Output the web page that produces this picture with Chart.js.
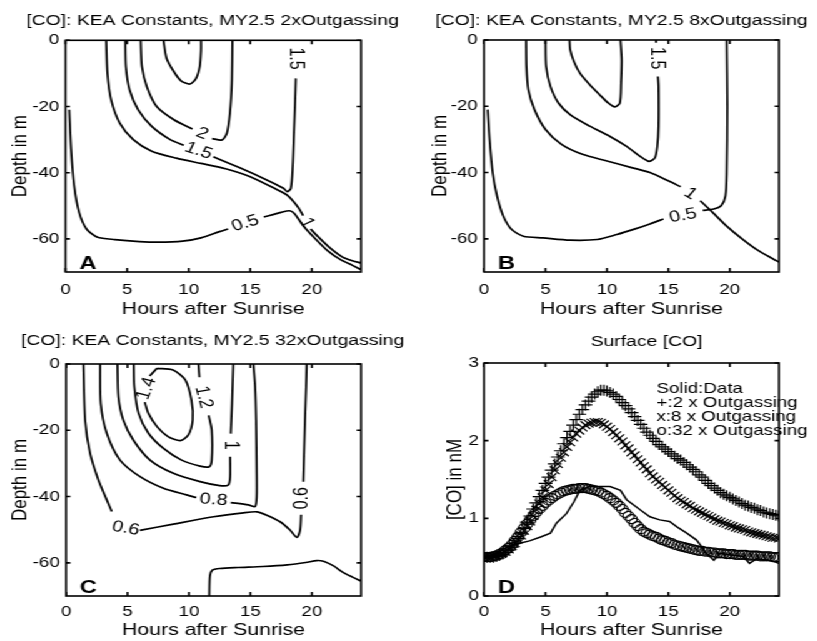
<!DOCTYPE html>
<html>
<head>
<meta charset="utf-8">
<script src="https://cdn.jsdelivr.net/npm/chart.js@4.4.1/dist/chart.umd.min.js"></script>
<style>
  body { margin: 0; background: #fff; }
  /* the scanned figure is wider than tall, so the whole set is stretched a bit */
  #wrap { position: absolute; left: 0; top: 0; width: 654px; height: 641px;
          transform: scaleX(1.25); transform-origin: 0 0; }
  canvas { position: absolute; }
</style>
</head>
<body>
<div id="wrap">
  <canvas id="cA" width="345" height="320" style="left:0;top:0"></canvas>
  <canvas id="cB" width="327" height="320" style="left:326px;top:0"></canvas>
  <canvas id="cC" width="345" height="321" style="left:0;top:320px"></canvas>
  <canvas id="cD" width="327" height="321" style="left:326px;top:320px"></canvas>
</div>
<script>
// ---- axes ----
const hourTicks = [0, 5, 10, 15, 20];
const depthTicks = [-60, -40, -20, 0];
const coTicks = [0, 1, 2, 3];

// ---- panel A: 2x outgassing, contour lines as [hour, depth], null = label gap ----
const a_c25 = [[7.95,0],[8.2,-5.4],[8.8,-9.5],[9.4,-12.3],[10.1,-13.2],[10.6,-11.5],[10.9,-7.9],[11.0,-3],[11.0,0]];
const a_c2 = [[6.1,0],[6.2,-7.9],[6.6,-14],[7.4,-20],[8.8,-24],[10.3,-26.8],null,[11.9,-29.7],[12.7,-30.1],[13.1,-28.1],[13.35,-22],[13.5,-13],[13.55,0]];
const a_c15 = [[4.85,0],[4.9,-8],[5.2,-15],[5.9,-21],[7.0,-26],[8.5,-30],[9.6,-31.7],null,[12.0,-35.2],[14.2,-38.6],[16.3,-42.1],[17.7,-44.7],[18.0,-45.7],[18.3,-44.7],[18.45,-38],[18.55,-28],[18.65,-18],[18.7,-11.5]];
const a_c1 = [[3.3,0],[3.4,-10],[3.7,-18],[4.4,-25],[5.5,-30],[7,-33.5],[9,-35.6],[11,-37.2],[13,-38.8],[15,-41.2],[17,-44.8],[18,-46.8],[18.9,-50.5],[19.3,-53],null,[19.9,-57],[20.5,-59.3],[21.5,-62.8],[22.5,-65.5],[23.3,-66.6],[24,-67.3]];
const a_c05 = [[0.3,-21],[0.45,-33],[0.7,-44],[1.1,-52],[1.7,-57],[2.6,-59.5],[4,-60.2],[6,-60.8],[7.5,-61],[9.5,-60.7],[11,-59.7],[12.5,-57.8],[13.2,-57],null,[16.1,-53.4],[17.5,-52],[18.2,-51.5],[18.6,-52.4],[19.3,-56],[20.3,-60],[21.3,-63.6],[22.3,-66.2],[23.3,-68],[24,-69.3]];
const a_labels = [['2',11.1,-28.2],['1.5',10.8,-33.4],['1.5',18.7,-5.5],['0.5',14.6,-55.3],['1',19.6,-55.2]];

// ---- panel B: 8x outgassing ----
const b_c2 = [[6.95,0],[7.0,-2.8],[7.3,-6.4],[7.8,-10],[8.6,-13.5],[9.4,-16.5],[10.1,-19],[10.65,-20.2],[11.05,-19],[11.15,-13],[11.2,-6],[11.1,0]];
const b_c15 = [[5.0,0],[5.05,-8],[5.4,-14],[6.05,-19],[7,-22.5],[8.6,-26],[10.25,-29.1],[11.6,-32.1],[12.7,-35.1],[13.4,-36.6],[13.9,-35.6],[14.1,-32.1],[14.2,-26],[14.2,-14],[14.15,-11],null,[14.0,-0.8],[14.0,0]];
const b_c1 = [[3.42,0],[3.45,-8],[3.6,-15],[4.1,-21],[5.0,-27],[6.3,-31.5],[8,-34.5],[10,-36.5],[12,-38.5],[13.5,-40],[15,-42.5],[16,-44.3],null,[17.6,-48.5],[18.6,-52],[19.7,-56],[21,-60],[22.3,-63.5],[23.5,-66],[24,-67]];
const b_c05 = [[0.3,-21],[0.45,-30],[0.7,-40],[1.05,-47],[1.55,-53],[2.25,-57.2],[3.2,-59.2],[4.8,-59.7],[7,-60.4],[9.2,-60.2],[10.8,-58.7],[12.3,-57],[13.5,-55.5],[14.6,-54],null,[17.8,-51.4],[18.7,-51],[19.3,-50],[19.65,-47],[19.75,-40],[19.8,-20],[19.75,0]];
const b_labels = [['1.5',14.05,-5.5],['1',16.8,-46.4],['0.5',16.2,-53]];

// ---- panel C: 32x outgassing ----
const c_c14 = [[7.4,-1.3],[8.7,-1.8],[9.7,-4.8],[10.2,-10.9],[10.3,-16.9],[9.95,-21.4],[9.3,-23.1],[8.3,-21.9],[7.4,-18.9],[6.7,-14.9],[6.4,-11.5],null,[6.8,-3.6],[7.4,-1.3]];
const c_c12 = [[5.5,0],[5.55,-6.8],[5.9,-14.9],[6.7,-20.9],[7.9,-25.4],[9.4,-29],[10.9,-30.8],[11.65,-31],[11.85,-29],[11.85,-19.9],[11.6,-15.5],null,[10.85,-4],[10.77,0]];
const c_c1 = [[4.18,0],[4.26,-9.9],[4.66,-17],[5.48,-23],[6.83,-29],[8.73,-33],[10.9,-35.5],[12.5,-36.7],[13.2,-36.5],[13.35,-34],[13.35,-28],null,[13.4,-21],[13.5,-11.9],[13.6,0]];
const c_c08 = [[2.77,0],[2.82,-11.9],[3.31,-20.9],[4.39,-29],[6.02,-34],[7.92,-37.5],[9.8,-39.5],[10.6,-40.3],null,[13.4,-41.8],[14.83,-42.5],[15.38,-43],[15.51,-40],[15.51,-32],[15.46,-16.9],[15.38,-6.8],[15.24,0]];
const c_c06 = [[1.41,0],[1.55,-16.9],[1.95,-26.9],[2.63,-35],[3.31,-41],[3.72,-44.5],null,[6.0,-50.2],[8.73,-48.3],[12,-46.1],[14.43,-44.9],[15.51,-44.6],[16.33,-45.6],[17.41,-47.6],[18.22,-50.1],[18.77,-52.3],[19.04,-50.1],[19.12,-45.5],null,[19.3,-35.5],[19.44,-16.9],[19.53,-6.8],[19.58,0]];
const c_deep = [[11.65,-70],[11.7,-64],[11.9,-62.2],[12.5,-61.7],[14,-61.4],[16,-61.1],[18,-60.6],[19.5,-59.9],[20.4,-59.3],[21,-59.6],[21.8,-61],[22.5,-62.8],[23.3,-64.3],[24,-65.5]];
const c_labels = [['1.4',6.55,-7.4],['1.2',11.2,-10],['1',13.35,-24.5],['0.8',12,-41],['0.6',4.85,-49.6],['0.6',19.2,-40.5]];

// ---- panel D: surface [CO], nM ----
const d_dataHours = [0,1,2,2.9,3.7,4.6,5.4,5.9,6.7,7.3,7.8,8.6,9.5,10.25,11.1,11.6,12.7,13.5,14.3,15.1,15.7,16.5,17.3,18.1,18.7,19.2,20,21.1,21.6,22.2,23.3,24];
const d_dataCO = [0.5,0.55,0.64,0.68,0.71,0.76,0.81,0.94,1.06,1.21,1.36,1.41,1.41,1.41,1.36,1.24,1.11,1.02,0.98,0.96,0.89,0.81,0.72,0.55,0.46,0.55,0.53,0.51,0.42,0.48,0.46,0.42];
const d_modelHours = [0,0.25,0.5,0.75,1,1.25,1.5,1.75,2,2.25,2.5,2.75,3,3.25,3.5,3.75,4,4.25,4.5,4.75,5,5.25,5.5,5.75,6,6.25,6.5,6.75,7,7.25,7.5,7.75,8,8.25,8.5,8.75,9,9.25,9.5,9.75,10,10.25,10.5,10.75,11,11.25,11.5,11.75,12,12.25,12.5,12.75,13,13.25,13.5,13.75,14,14.25,14.5,14.75,15,15.25,15.5,15.75,16,16.25,16.5,16.75,17,17.25,17.5,17.75,18,18.25,18.5,18.75,19,19.25,19.5,19.75,20,20.25,20.5,20.75,21,21.25,21.5,21.75,22,22.25,22.5,22.75,23,23.25,23.5,23.75,24];
const d_co2x = [0.50,0.50,0.50,0.50,0.51,0.52,0.54,0.56,0.59,0.63,0.68,0.74,0.80,0.87,0.95,1.03,1.12,1.20,1.28,1.36,1.45,1.53,1.62,1.70,1.79,1.87,1.96,2.04,2.12,2.20,2.27,2.34,2.40,2.46,2.51,2.56,2.60,2.63,2.65,2.65,2.64,2.62,2.60,2.57,2.53,2.49,2.45,2.41,2.36,2.31,2.26,2.21,2.16,2.11,2.07,2.03,1.99,1.95,1.92,1.89,1.86,1.83,1.80,1.77,1.75,1.72,1.69,1.66,1.63,1.60,1.56,1.53,1.49,1.45,1.42,1.39,1.36,1.33,1.31,1.29,1.27,1.25,1.23,1.21,1.19,1.17,1.16,1.14,1.13,1.11,1.10,1.08,1.07,1.06,1.05,1.04,1.03];
const d_co8x = [0.50,0.50,0.50,0.51,0.52,0.53,0.55,0.57,0.60,0.64,0.68,0.73,0.78,0.84,0.90,0.96,1.03,1.11,1.19,1.27,1.36,1.44,1.53,1.62,1.70,1.78,1.85,1.92,1.98,2.04,2.09,2.13,2.17,2.20,2.22,2.23,2.24,2.24,2.23,2.21,2.18,2.15,2.11,2.07,2.03,1.99,1.94,1.90,1.85,1.81,1.76,1.72,1.67,1.63,1.58,1.54,1.50,1.47,1.43,1.40,1.36,1.33,1.29,1.26,1.23,1.21,1.18,1.16,1.13,1.11,1.09,1.07,1.05,1.03,1.01,0.99,0.97,0.96,0.94,0.93,0.91,0.90,0.88,0.87,0.86,0.85,0.83,0.82,0.81,0.80,0.79,0.78,0.77,0.76,0.75,0.75,0.74];
const d_co32x = [0.50,0.50,0.50,0.51,0.52,0.54,0.56,0.59,0.62,0.66,0.71,0.76,0.82,0.87,0.93,0.98,1.03,1.08,1.12,1.16,1.20,1.23,1.26,1.29,1.31,1.33,1.35,1.36,1.37,1.38,1.38,1.39,1.39,1.39,1.38,1.37,1.36,1.35,1.33,1.31,1.29,1.26,1.23,1.20,1.16,1.12,1.07,1.03,0.99,0.94,0.90,0.86,0.83,0.81,0.79,0.77,0.76,0.74,0.72,0.71,0.69,0.68,0.66,0.65,0.64,0.63,0.62,0.61,0.60,0.59,0.58,0.58,0.57,0.57,0.56,0.56,0.55,0.55,0.55,0.54,0.54,0.54,0.53,0.53,0.53,0.53,0.52,0.52,0.52,0.52,0.51,0.51,0.51,0.51,0.50,0.50,0.50];
const d_notes = ['Solid:Data', '+:2 x Outgassing', 'x:8 x Outgassing', 'o:32 x Outgassing'];

const FONT = "'Liberation Sans', Arial, Helvetica, sans-serif";
Chart.defaults.color = '#000';
Chart.defaults.font.family = FONT;

// frame with inward ticks, titles, contour labels and panel letter
const panelDeco = {
  id: 'panelDeco',
  afterDraw(chart, args, o) {
    const { ctx, chartArea: a, scales: { x, y } } = chart;
    ctx.save();
    ctx.strokeStyle = '#000';
    ctx.lineWidth = 1.6;
    ctx.strokeRect(a.left, a.top, a.right - a.left, a.bottom - a.top);
    ctx.beginPath();
    x.ticks.forEach(t => {
      const px = x.getPixelForValue(t.value);
      ctx.moveTo(px, a.bottom); ctx.lineTo(px, a.bottom - 4);
      ctx.moveTo(px, a.top); ctx.lineTo(px, a.top + 4);
    });
    y.ticks.forEach(t => {
      const py = y.getPixelForValue(t.value);
      ctx.moveTo(a.left, py); ctx.lineTo(a.left + 3.5, py);
      ctx.moveTo(a.right, py); ctx.lineTo(a.right - 3.5, py);
    });
    ctx.stroke();

    ctx.fillStyle = '#000';
    ctx.textAlign = 'center';
    ctx.textBaseline = 'middle';
    ctx.font = '15.5px ' + FONT;
    ctx.fillText(o.title, o.titleX, o.titleY);

    (o.labels || []).forEach((l, i) => {
      ctx.save();
      ctx.translate(x.getPixelForValue(l[1]), y.getPixelForValue(l[2]));
      ctx.rotate((o.angles[i] || 0) * Math.PI / 180);
      ctx.font = '16px ' + FONT;
      ctx.fillText(l[0], 0, 0);
      ctx.restore();
    });

    ctx.textAlign = 'left';
    ctx.textBaseline = 'alphabetic';
    ctx.font = 'bold 19px ' + FONT;
    ctx.fillText(o.letter, a.left + 11, a.bottom - 3);

    if (o.notes) {
      ctx.font = '15px ' + FONT;
      o.notes.forEach((t, i) => ctx.fillText(t, a.left + 138, a.top + 30 + i * 14));
    }
    ctx.restore();
  }
};

function pts(arr) {
  return arr.map(p => p ? { x: p[0], y: p[1] } : { x: null, y: null });
}

function axes(lay, yOpts) {
  return {
    x: {
      type: 'linear', min: 0, max: 24,
      afterBuildTicks: s => { s.ticks = hourTicks.map(v => ({ value: v })); },
      ticks: { font: { size: 15 }, padding: lay.xPad, maxRotation: 0, autoSkip: false },
      grid: { display: false, drawTicks: false },
      border: { display: false },
      title: { display: true, text: 'Hours after Sunrise', font: { size: 17 }, padding: { top: 0, bottom: lay.xTitlePad } },
      afterFit: s => { s.height = lay.xh; }
    },
    y: Object.assign({
      type: 'linear',
      ticks: { font: { size: 15 }, padding: 5 },
      grid: { display: false, drawTicks: false },
      border: { display: false },
      afterFit: s => { s.width = lay.yw; }
    }, yOpts)
  };
}

function depthAxis(lay) {
  return {
    min: -70, max: 0,
    afterBuildTicks: s => { s.ticks = depthTicks.map(v => ({ value: v })); },
    title: { display: true, text: 'Depth in m', font: { size: 17 }, padding: { top: lay.yTitlePad, bottom: 0 } }
  };
}

function contourChart(id, lines, labels, angles, title, titleX, letter, lay) {
  new Chart(document.getElementById(id), {
    type: 'line',
    data: {
      datasets: lines.map(l => ({
        data: pts(l), borderColor: '#000', borderWidth: 1.7,
        pointRadius: 0, tension: 0.25, spanGaps: false
      }))
    },
    options: {
      responsive: false, animation: false, events: [],
      layout: { padding: { top: lay.top, right: lay.right, left: 0, bottom: 0 } },
      scales: axes(lay, depthAxis(lay)),
      plugins: {
        legend: { display: false }, tooltip: { enabled: false },
        panelDeco: { title, titleX, titleY: 21, labels, angles, letter }
      }
    },
    plugins: [panelDeco]
  });
}

contourChart('cA', [a_c25, a_c2, a_c15, a_c1, a_c05], a_labels, [25, 22, 90, -20, 60],
  '[CO]: KEA Constants, MY2.5 2xOutgassing', 170, 'A',
  { top: 40.3, right: 56.2, yw: 52.4, xh: 48, xPad: 9, xTitlePad: 0, yTitlePad: 5.8 });

contourChart('cB', [b_c2, b_c15, b_c1, b_c05], b_labels, [90, 35, -12],
  '[CO]: KEA Constants, MY2.5 8xOutgassing', 171.2, 'B',
  { top: 40, right: 29.8, yw: 61.2, xh: 48, xPad: 9, xTitlePad: 0, yTitlePad: 15.8 });

contourChart('cC', [c_c14, c_c12, c_c1, c_c08, c_c06, c_deep], c_labels, [-72, 78, 90, 5, 12, -90],
  '[CO]: KEA Constants, MY2.5 32xOutgassing', 170, 'C',
  { top: 44, right: 56.2, yw: 52.8, xh: 45, xPad: 7, xTitlePad: 0.8, yTitlePad: 5.8 });

// panel D: surface time series
const layD = { top: 43, right: 29.8, yw: 61.2, xh: 45, xPad: 7, xTitlePad: 0.8 };
const markerSet = (vals, style, r) => ({
  data: d_modelHours.map((h, i) => ({ x: h, y: vals[i] })),
  showLine: false, pointStyle: style, pointRadius: r,
  pointBorderColor: '#000', pointBackgroundColor: 'rgba(0,0,0,0)', pointBorderWidth: 1.2
});
new Chart(document.getElementById('cD'), {
  type: 'line',
  data: {
    datasets: [
      { data: d_dataHours.map((h, i) => ({ x: h, y: d_dataCO[i] })), borderColor: '#000', borderWidth: 1.5, pointRadius: 0, tension: 0 },
      markerSet(d_co2x, 'cross', 5.5),
      markerSet(d_co8x, 'crossRot', 5.5),
      markerSet(d_co32x, 'circle', 4.5)
    ]
  },
  options: {
    responsive: false, animation: false, events: [],
    layout: { padding: { top: layD.top, right: layD.right, left: 0, bottom: 0 } },
    scales: axes(layD, {
      min: 0, max: 3,
      afterBuildTicks: s => { s.ticks = coTicks.map(v => ({ value: v })); },
      ticks: { font: { size: 15 }, padding: 4 },
      title: { display: true, text: '[CO] in nM', font: { size: 17 }, padding: { top: 28.6, bottom: 0 } }
    }),
    plugins: {
      legend: { display: false }, tooltip: { enabled: false },
      panelDeco: { title: 'Surface [CO]', titleX: 191.2, titleY: 21.5, labels: [], angles: [], letter: 'D', notes: d_notes }
    }
  },
  plugins: [panelDeco]
});
</script>
</body>
</html>
